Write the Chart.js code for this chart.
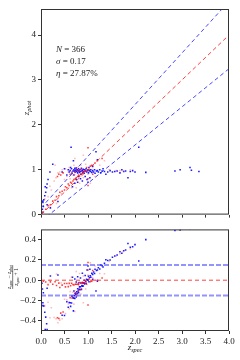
<!DOCTYPE html>
<html><head><meta charset="utf-8">
<script src="https://cdn.jsdelivr.net/npm/chart.js@4"></script>
<style>
html,body{margin:0;padding:0;background:#fff;width:240px;height:360px;overflow:hidden}
#top{position:absolute;left:0;top:0;width:240px;height:222px}
#bot{position:absolute;left:0;top:222px;width:240px;height:138px}
</style></head><body>
<canvas id="top" width="240" height="222"></canvas>
<canvas id="bot" width="240" height="138"></canvas>
<script>
// ---- data ----
const blueSpec = [0.02,0.03,0.04,0.04,0.05,0.06,0.08,0.09,0.10,0.12,0.13,0.13,0.15,0.19,0.25,0.36,0.20,
0.45,0.50,0.55,0.58,0.60,0.62,0.63,0.64,0.65,0.66,0.67,0.68,0.69,0.70,0.70,0.71,0.72,0.72,0.73,0.74,0.75,0.75,0.76,0.77,0.78,0.78,0.79,0.80,0.80,0.81,0.82,0.83,0.84,0.84,0.85,0.86,0.87,0.88,0.88,0.89,0.90,0.91,0.92,0.93,0.94,0.95,0.96,0.97,0.98,0.99,1.00,1.00,1.01,1.02,1.03,1.04,1.05,1.06,1.08,1.10,1.10,1.12,1.14,1.15,1.17,1.18,1.20,1.20,1.22,1.25,1.27,1.30,1.32,1.35,1.38,1.42,1.47,1.52,1.57,1.62,1.68,1.72,1.76,1.80,1.85,1.90,1.95,2.00,2.08,2.23,2.85,2.96,3.17,3.20,3.36];
const bluePhot = [0.05,0.12,0.27,0.30,0.18,0.33,0.42,0.62,0.50,0.60,0.22,0.68,0.78,0.95,1.12,0.29,0.15,
0.95,1.02,0.88,1.00,0.95,0.98,1.05,1.50,1.02,0.92,0.62,0.97,1.20,1.00,0.88,0.97,1.03,0.70,0.95,0.99,1.04,0.78,0.96,1.00,0.93,0.72,0.98,1.02,0.85,0.97,0.94,1.00,0.96,0.80,0.90,1.03,0.97,0.99,0.75,0.94,1.01,0.96,0.92,1.00,0.85,0.97,1.02,0.95,0.78,0.98,1.00,0.72,0.93,1.05,0.98,0.82,0.96,1.00,0.94,0.98,1.08,0.95,1.00,0.92,1.40,0.97,1.22,0.98,0.95,1.00,0.93,0.97,1.02,0.96,0.90,0.95,0.98,0.95,0.96,0.97,0.93,1.00,0.96,0.97,0.82,0.96,0.98,0.95,1.50,0.94,0.97,1.00,1.05,0.99,0.96];
const redSpec = [0.05,0.10,0.15,0.20,0.25,0.30,0.33,0.38,0.40,0.42,0.45,0.47,0.50,0.52,0.55,0.58,0.60,0.62,0.63,0.65,0.66,0.68,0.70,0.72,0.73,0.75,0.76,0.78,0.80,0.80,0.82,0.85,0.86,0.88,0.90,0.92,0.95,0.97,1.00,1.00,1.02,1.05,1.08,1.10,1.15,1.20,1.00,1.30,0.35,0.38];
const redPhot = [0.06,0.12,0.20,0.22,0.30,0.32,0.40,0.42,0.50,0.88,0.52,0.93,0.55,0.62,0.60,0.68,0.65,0.90,0.72,0.70,0.95,0.75,0.78,0.95,0.80,0.82,1.00,0.85,0.88,0.98,0.86,0.90,1.02,0.92,0.95,0.97,0.98,1.05,0.65,0.80,1.00,1.08,1.10,0.90,1.15,1.20,1.49,1.25,0.85,0.90];
const paleSpec = [0.08,0.15,0.19,0.19,0.22,0.28,0.30,0.32,0.36,0.40,0.43,0.45,0.50,0.52,0.55,0.58,0.60,0.62,0.65,0.68,0.70,0.72,0.75,0.78,0.82,0.85,0.90,0.95,1.00,1.05,1.10,1.15,1.25,1.35,1.45,1.60,1.68,1.75,1.90,0.90,0.72,0.33];
const palePhot = [0.35,0.40,0.19,0.63,0.55,0.75,1.10,0.82,0.93,0.95,0.47,1.00,0.78,1.02,0.85,0.95,1.05,0.80,0.60,0.88,1.10,0.90,0.60,1.05,0.70,1.10,0.82,1.12,0.90,0.70,1.05,0.85,1.10,1.20,1.00,0.98,0.98,0.97,1.00,1.32,1.25,0.25];
// guide lines (endpoints)
const guideX = [0, 4];
const guideMid = [0, 4];
const guideUp = [0.15, 4.75];
const guideLow = [-0.15, 3.25];
const resGuideUp = [0.15, 0.15];
const resGuideMid = [0, 0];
const resGuideLow = [-0.15, -0.15];
// ticks
const xTicks = [0, 0.5, 1, 1.5, 2, 2.5, 3, 3.5, 4];
const topYTicks = [0, 1, 2, 3, 4];
const botYTicks = [-0.4, -0.2, 0, 0.2, 0.4];
const statLines = [["N", " = 366"], ["σ", " = 0.17"], ["η", " = 27.87%"]];

// ---- build ----
const SERIF = "'Liberation Serif', 'DejaVu Serif', serif";
Chart.defaults.font.family = SERIF;
Chart.defaults.font.size = 9;
Chart.defaults.color = '#222';
Chart.defaults.animation = false;

const pts = (xs, ys) => xs.map((x, i) => ({x: x, y: ys[i]}));
const resid = (xs, ys) => xs.map((x, i) => ({x: x, y: (x - ys[i]) / (x + 1)}));
const line = (xs, ys, color, dash, w) => ({type: 'scatter', data: pts(xs, ys), showLine: true, borderColor: color, borderDash: dash, borderWidth: w, pointRadius: 0, fill: false, order: 0});
const scat = (data, color) => ({type: 'scatter', data: data, backgroundColor: color, borderWidth: 0, pointRadius: 1.1, pointStyle: 'rect', order: 1});

function framePlugin(textFn) {
  return {
    id: 'frame',
    afterDraw(chart) {
      const a = chart.chartArea, ctx = chart.ctx;
      ctx.save();
      ctx.strokeStyle = '#333';
      ctx.lineWidth = 1;
      ctx.strokeRect(a.left + 0.5, a.top + 0.5, a.right - a.left - 1, a.bottom - a.top - 1);
      ctx.restore();
      textFn(ctx);
    }
  };
}

function drawSub(ctx, x, y, main, sub, size, align) {
  ctx.font = 'italic ' + size + 'px ' + SERIF;
  const w1 = ctx.measureText(main).width;
  ctx.font = 'italic ' + (size * 0.7) + 'px ' + SERIF;
  const w2 = ctx.measureText(sub).width;
  let x0 = x;
  if (align === 'center') x0 = x - (w1 + w2) / 2;
  ctx.textBaseline = 'alphabetic';
  ctx.textAlign = 'left';
  ctx.font = 'italic ' + size + 'px ' + SERIF;
  ctx.fillText(main, x0, y);
  ctx.font = 'italic ' + (size * 0.7) + 'px ' + SERIF;
  ctx.fillText(sub, x0 + w1, y + size * 0.25);
  return w1 + w2;
}

function scaleOpts(min, max, ticks, fmt, showLabels, fixedSize, axis) {
  return {
    type: 'linear', min: min, max: max,
    afterBuildTicks: s => { s.ticks = ticks.map(v => ({value: v})); },
    afterFit: s => { if (axis === 'y') s.width = fixedSize; else s.height = fixedSize; },
    ticks: {display: showLabels, callback: fmt, padding: 2, autoSkip: false, maxRotation: 0, color: '#222', font: {size: 9}},
    grid: {drawOnChartArea: false, drawTicks: true, tickLength: 3, color: '#333'},
    border: {display: false}
  };
}

const fmt1 = v => (v < 0 ? '−' : '') + Math.abs(v).toFixed(1);

function topText(ctx) {
  ctx.save();
  ctx.fillStyle = '#222';
  statLines.forEach((l, i) => {
    const y = 52 + i * 12;
    ctx.textBaseline = 'alphabetic'; ctx.textAlign = 'left';
    ctx.font = 'italic 9px ' + SERIF;
    ctx.fillText(l[0], 56, y);
    const w = ctx.measureText(l[0]).width;
    ctx.font = '9px ' + SERIF;
    ctx.fillText(l[1], 56 + w, y);
  });
  ctx.translate(29, 108);
  ctx.rotate(-Math.PI / 2);
  drawSub(ctx, 0, 0, 'z', 'phot', 9, 'center');
  ctx.restore();
}

function botText(ctx) {
  ctx.save();
  ctx.fillStyle = '#222';
  drawSub(ctx, 135, 128, 'z', 'spec', 9, 'center');
  ctx.translate(13, 55);
  ctx.rotate(-Math.PI / 2);
  const fs = 5.5;
  const measure = (m, s, italic) => {
    ctx.font = (italic ? 'italic ' : '') + fs + 'px ' + SERIF; const a = ctx.measureText(m).width;
    ctx.font = 'italic ' + fs * 0.7 + 'px ' + SERIF; const b = s ? ctx.measureText(s).width : 0; return a + b;
  };
  const numW = measure('z', 'spec', true) + measure(' − ', '', false) + measure('z', 'phot', true);
  let x = -numW / 2;
  x += drawSub(ctx, x, -2, 'z', 'spec', fs, 'left');
  ctx.font = fs + 'px ' + SERIF; ctx.fillText(' − ', x, -2); x += ctx.measureText(' − ').width;
  drawSub(ctx, x, -2, 'z', 'phot', fs, 'left');
  ctx.fillRect(-numW / 2, -0.5, numW, 0.6);
  const denW = measure('z', 'spec', true) + measure(' + 1', '', false);
  x = -denW / 2;
  x += drawSub(ctx, x, 5, 'z', 'spec', fs, 'left');
  ctx.font = fs + 'px ' + SERIF; ctx.fillText(' + 1', x, 5);
  ctx.restore();
}

new Chart(document.getElementById('top'), {
  type: 'scatter',
  data: {datasets: [
    scat(pts(paleSpec, palePhot), 'rgba(255,60,60,0.35)'),
    scat(pts(redSpec, redPhot), 'rgba(255,0,0,0.75)'),
    scat(pts(blueSpec, bluePhot), 'rgba(0,0,255,0.9)'),
    line(guideX, guideUp, 'rgba(40,40,255,0.85)', [4, 3], 1),
    line(guideX, guideMid, 'rgba(255,30,30,0.85)', [4, 3], 1),
    line(guideX, guideLow, 'rgba(40,40,255,0.85)', [4, 3], 1)
  ]},
  options: {
    responsive: false, animation: false,
    layout: {padding: {top: 9, right: 11, left: 0, bottom: 0}},
    plugins: {legend: {display: false}, tooltip: {enabled: false}},
    scales: {
      x: scaleOpts(0, 4, xTicks, fmt1, false, 7, 'x'),
      y: scaleOpts(0, 4.58, topYTicks, v => String(v), true, 41, 'y')
    }
  },
  plugins: [framePlugin(topText)]
});

new Chart(document.getElementById('bot'), {
  type: 'scatter',
  data: {datasets: [
    scat(resid(paleSpec, palePhot), 'rgba(255,60,60,0.35)'),
    scat(resid(redSpec, redPhot), 'rgba(255,0,0,0.75)'),
    scat(resid(blueSpec, bluePhot), 'rgba(0,0,255,0.9)'),
    line(guideX, resGuideUp, 'rgba(60,60,255,0.55)', [5, 2], 2),
    line(guideX, resGuideMid, 'rgba(255,30,30,0.85)', [4, 3], 1),
    line(guideX, resGuideLow, 'rgba(60,60,255,0.55)', [5, 2], 2)
  ]},
  options: {
    responsive: false, animation: false,
    layout: {padding: {top: 7, right: 11, left: 0, bottom: 0}},
    plugins: {legend: {display: false}, tooltip: {enabled: false}},
    scales: {
      x: scaleOpts(0, 4, xTicks, fmt1, true, 29, 'x'),
      y: scaleOpts(-0.5, 0.5, botYTicks, fmt1, true, 41, 'y')
    }
  },
  plugins: [framePlugin(botText)]
});
</script>
</body></html>
